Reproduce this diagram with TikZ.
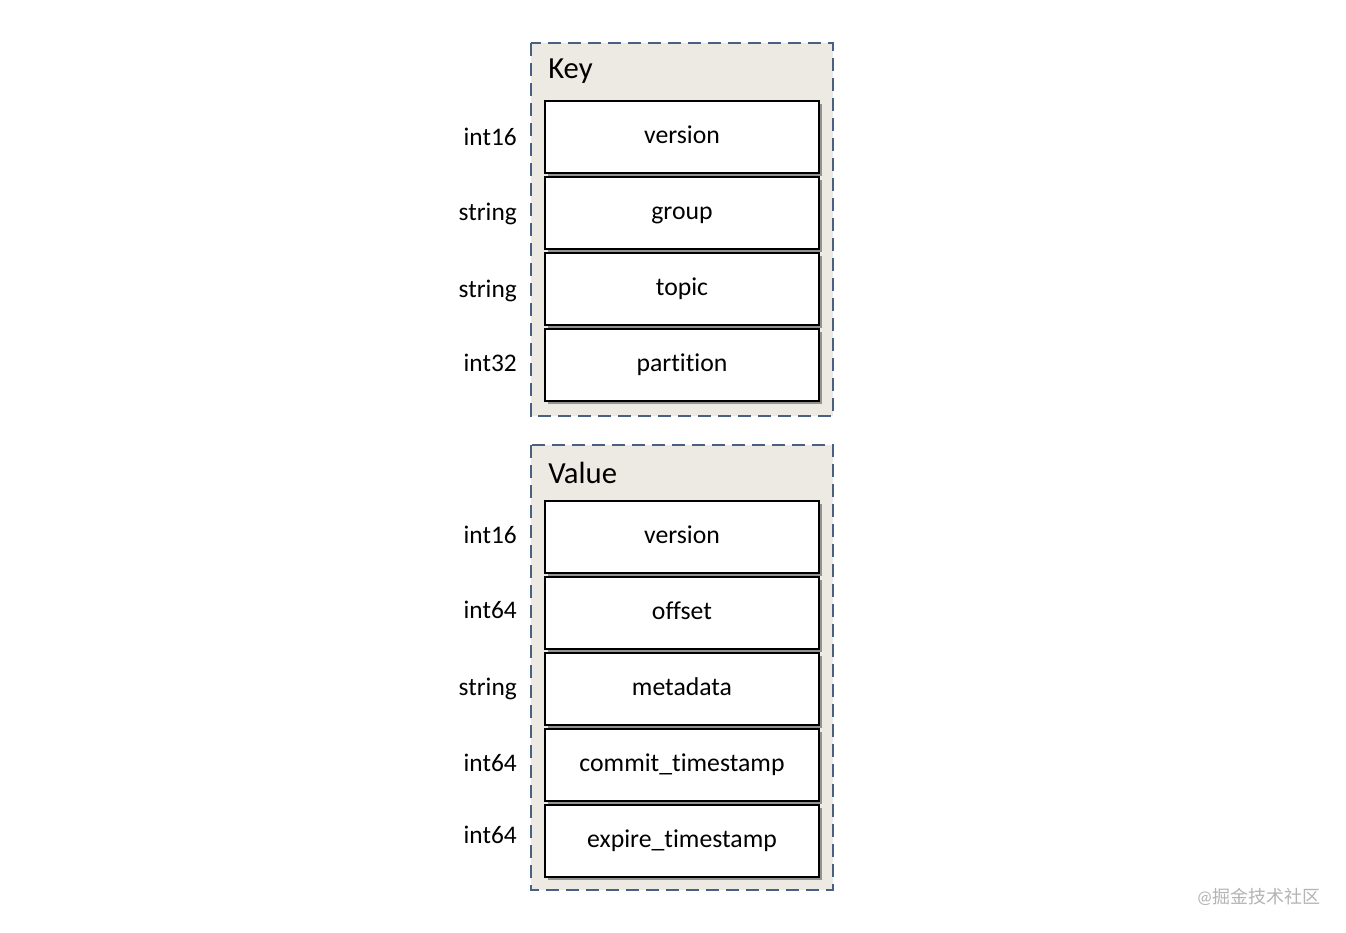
\documentclass[tikz,border=0pt]{standalone}
\usepackage{fontspec}
\setmainfont[Ligatures={NoCommon}]{Carlito}
\newfontfamily\cjk{Noto Sans CJK SC}
\usetikzlibrary{shadows}
\definecolor{panelfill}{HTML}{ECEAE3}
\definecolor{paneldash}{HTML}{4A6082}
\definecolor{wm}{HTML}{B4B4B4}
\tikzset{
  panel/.style={draw=paneldash, fill=panelfill, line width=1.5pt, dash pattern=on 10pt off 5pt, rectangle, inner sep=0pt},
  field/.style={draw=black, fill=white, line width=1.5pt, rectangle, minimum width=274*0.75pt, minimum height=72*0.75pt, inner sep=0pt,
    text height=0.91em, text depth=0.01em,
    font=\fontsize{19.3pt}{22pt}\selectfont,
    drop shadow={shadow xshift=2.5pt, shadow yshift=-2.5pt, opacity=0.55, fill=black!70}},
  typelbl/.style={anchor=east, font=\fontsize{19pt}{22pt}\selectfont, inner sep=0pt, text height=0.91em, text depth=0.01em},
  title/.style={anchor=west, font=\fontsize{23pt}{26pt}\selectfont, inner sep=0pt},
}
\begin{document}
\begin{tikzpicture}[x=0.75pt,y=-0.75pt]
\useasboundingbox (0,0) rectangle (1346,932);
\fill[white] (0,0) rectangle (1346,932);
% Key panel
\path[panel] (531,43) rectangle (833,416);
\node[title] (keyt) at (548,71) {Key};
\node[field] (kver) at (682,137) {version};
\node[field] (kgrp) at (682,213) {group};
\node[field] (ktop) at (682,289) {topic};
\node[field] (kpar) at (682,365) {partition};
\node[typelbl] (lk1) at (517,139) {int16};
\node[typelbl] (lk2) at (517,214) {string};
\node[typelbl] (lk3) at (517,291) {string};
\node[typelbl] (lk4) at (517,365) {int32};
% Value panel
\path[panel] (531,445) rectangle (833,890);
\node[title] (valt) at (548,473) {Value};
\node[field] (vver) at (682,537) {version};
\node[field] (voff) at (682,613) {offset};
\node[field] (vmet) at (682,689) {metadata};
\node[field] (vcom) at (682,765) {commit\_timestamp};
\node[field] (vexp) at (682,841) {expire\_timestamp};
\node[typelbl] (lv1) at (517,537) {int16};
\node[typelbl] (lv2) at (517,612) {int64};
\node[typelbl] (lv3) at (517,689) {string};
\node[typelbl] (lv4) at (517,765) {int64};
\node[typelbl] (lv5) at (517,837) {int64};
% watermark
\node[anchor=east, text=wm, inner sep=0pt, font=\fontsize{13.5pt}{16pt}\selectfont] (wmk) at (1321,897) {@\cjk 掘金技术社区};
\end{tikzpicture}
\end{document}
